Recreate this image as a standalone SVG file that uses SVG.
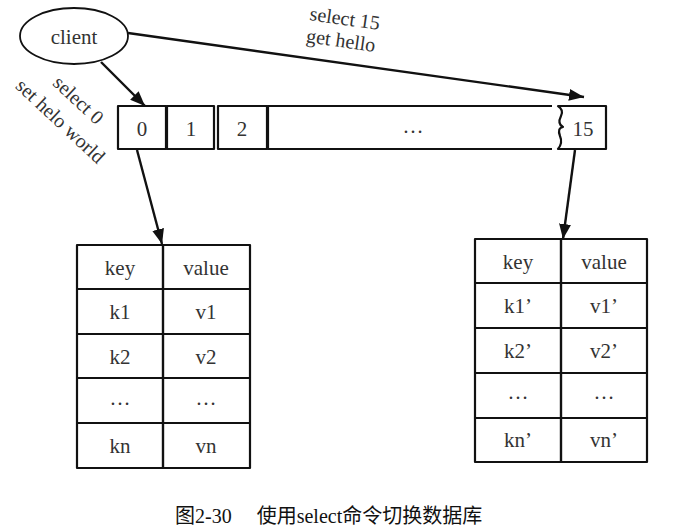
<svg xmlns="http://www.w3.org/2000/svg" width="675" height="532" viewBox="0 0 675 532">
<style>
.s{fill:none;stroke:#111;stroke-width:2.2;stroke-linejoin:round}
.c{fill:#fff;stroke:#111;stroke-width:1.8}
text{font-family:"Liberation Serif","DejaVu Serif",serif}
.t{font-size:21px;fill:#333;text-anchor:middle}
.l{font-size:20px;fill:#333;text-anchor:middle}
.a{fill:none;stroke:#111;stroke-width:2.4}
.cap{font-family:"Liberation Serif","Noto Sans CJK SC",serif;font-size:20px;fill:#111}
</style>
<defs>
<marker id="ah" viewBox="0 0 15 12" refX="15" refY="6" markerWidth="15" markerHeight="12" markerUnits="userSpaceOnUse" orient="auto"><path d="M0,0 L15,6 L0,12 z" fill="#111"/></marker>
</defs>
<rect width="675" height="532" fill="#fff"/>
<g id="client">
<ellipse class="c" cx="74" cy="36" rx="54" ry="28"/>
<text class="t" x="74" y="44">client</text>
</g>
<g id="slots">
<rect class="s" x="118" y="106" width="48" height="43"/>
<text class="t" x="142" y="136">0</text>
<rect class="s" x="167" y="106" width="47" height="43"/>
<text class="t" x="191" y="136">1</text>
<rect class="s" x="218" y="106" width="49" height="43"/>
<text class="t" x="242" y="136">2</text>
<path class="s" d="M552,106 L268,106 L268,149 L552,149"/>
<text class="t" x="413" y="133">…</text>
<path class="s" d="M558,106 L606,106 L606,149 L558,149 Q563,143 560,136 Q557,128 563,127 Q557,124 561,116 Q564,110 558,106 Z"/>
<text class="t" x="583" y="136">15</text>
</g>
<g id="db0">
<g class="s">
<rect x="77" y="245" width="86" height="44"/><rect x="163" y="245" width="87" height="44"/>
<rect x="77" y="289" width="86" height="45"/><rect x="163" y="289" width="87" height="45"/>
<rect x="77" y="334" width="86" height="44"/><rect x="163" y="334" width="87" height="44"/>
<rect x="77" y="378" width="86" height="45"/><rect x="163" y="378" width="87" height="45"/>
<rect x="77" y="423" width="86" height="45"/><rect x="163" y="423" width="87" height="45"/>
</g>
<text class="t" x="120" y="275">key</text><text class="t" x="206" y="275">value</text>
<text class="t" x="120" y="319">k1</text><text class="t" x="206" y="319">v1</text>
<text class="t" x="120" y="364">k2</text><text class="t" x="206" y="364">v2</text>
<text class="t" x="120" y="405">…</text><text class="t" x="206" y="405">…</text>
<text class="t" x="120" y="453">kn</text><text class="t" x="206" y="453">vn</text>
</g>
<g id="db15">
<g class="s">
<rect x="475" y="239" width="86" height="44"/><rect x="561" y="239" width="86" height="44"/>
<rect x="475" y="283" width="86" height="45"/><rect x="561" y="283" width="86" height="45"/>
<rect x="475" y="328" width="86" height="45"/><rect x="561" y="328" width="86" height="45"/>
<rect x="475" y="373" width="86" height="45"/><rect x="561" y="373" width="86" height="45"/>
<rect x="475" y="418" width="86" height="44"/><rect x="561" y="418" width="86" height="44"/>
</g>
<text class="t" x="518" y="269">key</text><text class="t" x="604" y="269">value</text>
<text class="t" x="518" y="313">k1’</text><text class="t" x="604" y="313">v1’</text>
<text class="t" x="518" y="358">k2’</text><text class="t" x="604" y="358">v2’</text>
<text class="t" x="518" y="399">…</text><text class="t" x="604" y="399">…</text>
<text class="t" x="518" y="447">kn’</text><text class="t" x="604" y="447">vn’</text>
</g>
<g id="connectors">
<line class="a" x1="101" y1="62" x2="145" y2="106" marker-end="url(#ah)"/>
<line class="a" x1="128" y1="33" x2="584" y2="97" marker-end="url(#ah)"/>
<line class="a" x1="137" y1="150" x2="162" y2="244" marker-end="url(#ah)"/>
<line class="a" x1="575" y1="150" x2="563" y2="239" marker-end="url(#ah)"/>
</g>
<g id="labels">
<text class="l" transform="translate(344,25) rotate(8)">select 15</text>
<text class="l" transform="translate(340,47) rotate(8)">get hello</text>
<text class="l" transform="translate(74,105) rotate(43)">select 0</text>
<text class="l" transform="translate(56,126) rotate(43)">set helo world</text>
</g>
<text class="cap" x="175" y="523">图2-30　 使用select命令切换数据库</text>
</svg>
